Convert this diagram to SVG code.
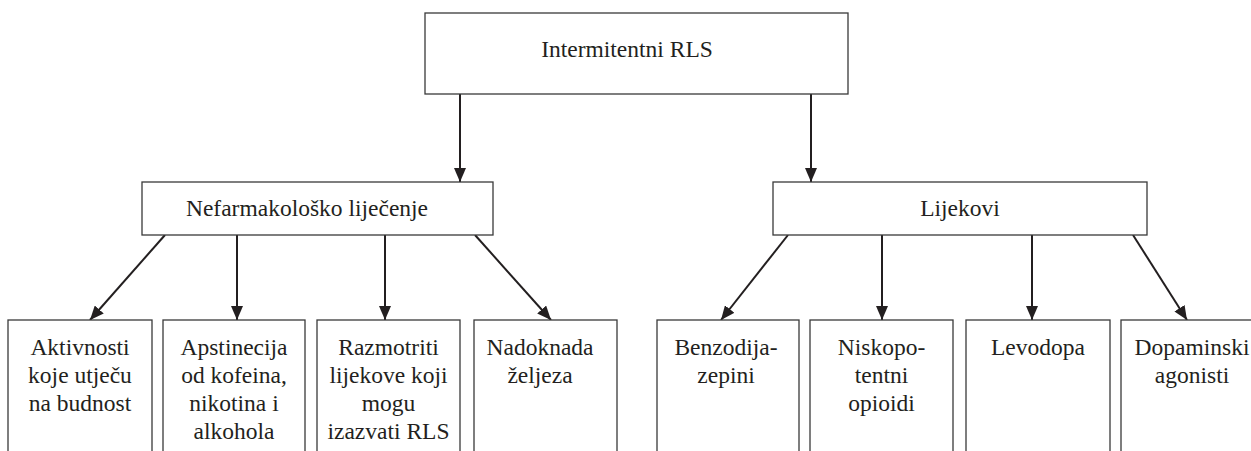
<svg xmlns="http://www.w3.org/2000/svg" width="1251" height="451" viewBox="0 0 1251 451">
<style>
.box{fill:#fff;stroke:#3a3a3a;stroke-width:1.3}
.t{font-family:'Liberation Serif','Times New Roman',serif;font-size:23.5px;fill:#231f20;text-anchor:middle}
.c{stroke:#231f20;stroke-width:2;fill:none;marker-end:url(#ah)}
</style>
<defs>
<marker id="ah" markerUnits="userSpaceOnUse" markerWidth="14" markerHeight="12" refX="14" refY="6" orient="auto">
<path d="M0,0 L14,6 L0,12 z" fill="#231f20"/>
</marker>
</defs>
<rect width="1251" height="451" fill="#fff"/>
<g id="connectors">
<line class="c" x1="460" y1="94" x2="460" y2="182"/>
<line class="c" x1="811" y1="94" x2="811" y2="182"/>
<line class="c" x1="165" y1="235" x2="90" y2="320"/>
<line class="c" x1="237" y1="235" x2="237" y2="320"/>
<line class="c" x1="385" y1="235" x2="385" y2="320"/>
<line class="c" x1="475" y1="235" x2="551" y2="320"/>
<line class="c" x1="788" y1="235" x2="721" y2="320"/>
<line class="c" x1="882" y1="235" x2="882" y2="320"/>
<line class="c" x1="1032" y1="235" x2="1032" y2="320"/>
<line class="c" x1="1133" y1="235" x2="1187" y2="320"/>
</g>
<g id="root">
<rect class="box" x="425" y="13" width="423" height="81"/>
<text class="t" x="627" y="57">Intermitentni RLS</text>
</g>
<g id="nefarm">
<rect class="box" x="142" y="182" width="351" height="53"/>
<text class="t" x="307" y="216">Nefarmakološko liječenje</text>
</g>
<g id="lijekovi">
<rect class="box" x="773" y="182" width="374" height="53"/>
<text class="t" x="960" y="216">Lijekovi</text>
</g>
<g id="aktivnosti">
<rect class="box" x="8" y="320" width="144" height="140"/>
<text class="t" x="80" y="355">Aktivnosti</text>
<text class="t" x="80" y="383">koje utječu</text>
<text class="t" x="80" y="411">na budnost</text>
</g>
<g id="apstinencija">
<rect class="box" x="163" y="320" width="142" height="140"/>
<text class="t" x="234" y="355">Apstinecija</text>
<text class="t" x="234" y="383">od kofeina,</text>
<text class="t" x="234" y="411">nikotina i</text>
<text class="t" x="234" y="439">alkohola</text>
</g>
<g id="razmotriti">
<rect class="box" x="317" y="320" width="143" height="140"/>
<text class="t" x="388.5" y="355">Razmotriti</text>
<text class="t" x="388.5" y="383">lijekove koji</text>
<text class="t" x="388.5" y="411">mogu</text>
<text class="t" x="388.5" y="439">izazvati RLS</text>
</g>
<g id="nadoknada">
<rect class="box" x="474" y="320" width="143" height="140"/>
<text class="t" x="540" y="355">Nadoknada</text>
<text class="t" x="540" y="383">željeza</text>
</g>
<g id="benzo">
<rect class="box" x="657" y="320" width="142" height="140"/>
<text class="t" x="726" y="355">Benzodija-</text>
<text class="t" x="726" y="383">zepini</text>
</g>
<g id="opioidi">
<rect class="box" x="810" y="320" width="143" height="140"/>
<text class="t" x="881.5" y="355">Niskopo-</text>
<text class="t" x="881.5" y="383">tentni</text>
<text class="t" x="881.5" y="411">opioidi</text>
</g>
<g id="levodopa">
<rect class="box" x="966" y="320" width="144" height="140"/>
<text class="t" x="1038" y="355">Levodopa</text>
</g>
<g id="agonisti">
<rect class="box" x="1121" y="320" width="143" height="140"/>
<text class="t" x="1192" y="355">Dopaminski</text>
<text class="t" x="1192" y="383">agonisti</text>
</g>
</svg>
